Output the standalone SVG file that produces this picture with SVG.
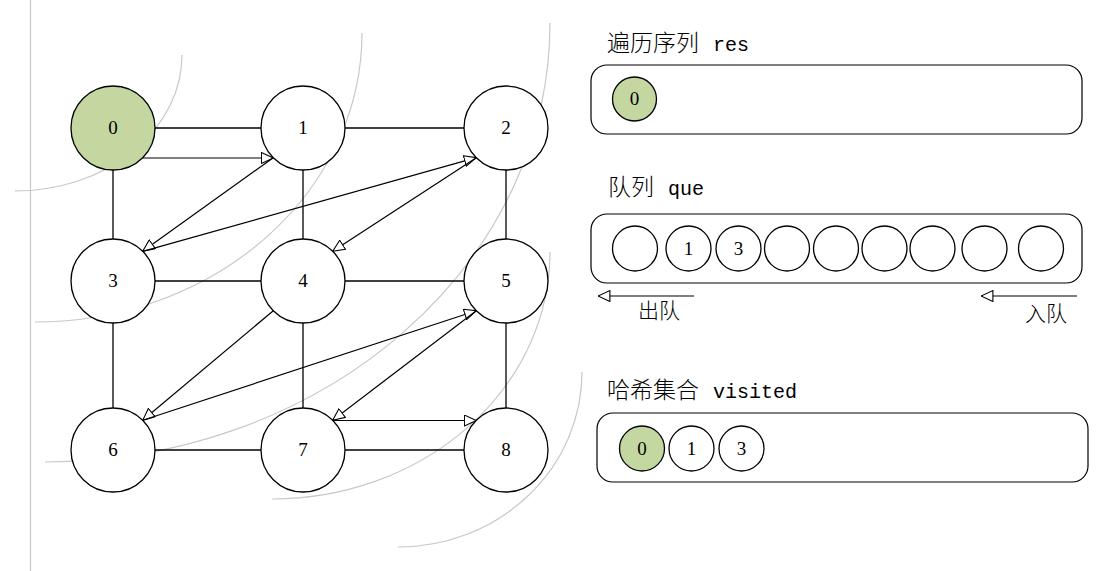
<svg xmlns="http://www.w3.org/2000/svg" width="1111" height="571" viewBox="0 0 1111 571">
  <style>
    .node { fill: #ffffff; stroke: #000000; stroke-width: 1.3; }
    .visited { fill: #c5d7a1; }
    .label { font-family: "Liberation Serif", "Noto Sans CJK SC", serif; font-size: 19px; fill: #000000; text-anchor: middle; }
    .edge { stroke: #000000; stroke-width: 1.3; fill: none; }
    .arrow { stroke: #000000; stroke-width: 1.2; fill: none; marker-end: url(#hollow); }
    .guide { stroke: #c8c8c8; stroke-width: 1.2; fill: none; }
    .box { fill: #ffffff; stroke: #000000; stroke-width: 1.2; }
    .title { font-family: "Noto Sans CJK SC", sans-serif; font-size: 23px; font-weight: 300; fill: #000000; }
    .mono { font-family: "Liberation Mono", monospace; font-size: 20px; }
    .cjk { font-family: "Noto Sans CJK SC", sans-serif; font-size: 21px; font-weight: 300; fill: #000000; }
  </style>
  <defs>
    <marker id="hollow" viewBox="0 0 13 12" refX="12.5" refY="6" markerWidth="13" markerHeight="12" markerUnits="userSpaceOnUse" orient="auto">
      <path d="M0.6,0.6 L12.5,6 L0.6,11.4 Z" fill="#ffffff" stroke="#000000" stroke-width="1.1"/>
    </marker>
  </defs>

  <rect width="1111" height="571" fill="#ffffff"/>

  <!-- guide lines: margin and level wavefronts -->
  <g id="guides">
    <line class="guide" x1="30.5" y1="0" x2="30.5" y2="571"/>
    <path class="guide" d="M182,55 A167,136 0 0 1 15,191"/>
    <path class="guide" d="M362,33 A327,289 0 0 1 35,322"/>
    <path class="guide" d="M550,23 A505,439 0 0 1 45,462"/>
    <path class="guide" d="M550,252 A278,247 0 0 1 272,499"/>
    <path class="guide" d="M582,372 A184,175 0 0 1 398,547"/>
  </g>

  <!-- grid edges and traversal order arrows -->
  <g id="connectors">
    <line class="edge" x1="155" y1="128" x2="261" y2="128"/>
    <line class="edge" x1="345" y1="128" x2="464" y2="128"/>
    <line class="edge" x1="155" y1="281" x2="261" y2="281"/>
    <line class="edge" x1="345" y1="281" x2="464" y2="281"/>
    <line class="edge" x1="155" y1="450" x2="261" y2="450"/>
    <line class="edge" x1="345" y1="450" x2="464" y2="450"/>
    <line class="edge" x1="113" y1="170" x2="113" y2="239"/>
    <line class="edge" x1="303" y1="170" x2="303" y2="239"/>
    <line class="edge" x1="506" y1="170" x2="506" y2="239"/>
    <line class="edge" x1="113" y1="323" x2="113" y2="408"/>
    <line class="edge" x1="303" y1="323" x2="303" y2="408"/>
    <line class="edge" x1="506" y1="323" x2="506" y2="408"/>

    <line class="arrow" x1="142.7" y1="158" x2="273.3" y2="158"/>
    <line class="arrow" x1="273.3" y1="157.7" x2="142.7" y2="251.3"/>
    <line class="arrow" x1="142.7" y1="251.3" x2="476.3" y2="157.7"/>
    <line class="arrow" x1="476.3" y1="157.7" x2="332.7" y2="251.3"/>
    <line class="arrow" x1="273.3" y1="310.7" x2="142.7" y2="420.3"/>
    <line class="arrow" x1="142.7" y1="420.3" x2="476.3" y2="310.7"/>
    <line class="arrow" x1="476.3" y1="310.7" x2="332.7" y2="420.3"/>
    <line class="arrow" x1="332.7" y1="420.5" x2="476.3" y2="420.5"/>

    <line class="arrow" x1="694" y1="296" x2="598" y2="296"/>
    <line class="arrow" x1="1077" y1="296" x2="981" y2="296"/>
  </g>

  <!-- graph nodes -->
  <g id="n0"><circle class="node visited" cx="113" cy="128" r="42"/><text class="label" x="113" y="134">0</text></g>
  <g id="n1"><circle class="node" cx="303" cy="128" r="42"/><text class="label" x="303" y="134">1</text></g>
  <g id="n2"><circle class="node" cx="506" cy="128" r="42"/><text class="label" x="506" y="134">2</text></g>
  <g id="n3"><circle class="node" cx="113" cy="281" r="42"/><text class="label" x="113" y="287">3</text></g>
  <g id="n4"><circle class="node" cx="303" cy="281" r="42"/><text class="label" x="303" y="287">4</text></g>
  <g id="n5"><circle class="node" cx="506" cy="281" r="42"/><text class="label" x="506" y="287">5</text></g>
  <g id="n6"><circle class="node" cx="113" cy="450" r="42"/><text class="label" x="113" y="456">6</text></g>
  <g id="n7"><circle class="node" cx="303" cy="450" r="42"/><text class="label" x="303" y="456">7</text></g>
  <g id="n8"><circle class="node" cx="506" cy="450" r="42"/><text class="label" x="506" y="456">8</text></g>

  <!-- result sequence -->
  <g id="res">
    <text class="title" x="607" y="51">遍历序列<tspan class="mono" x="713">res</tspan></text>
    <rect class="box" x="591" y="65" width="491" height="69" rx="16"/>
    <circle class="node visited" cx="634.5" cy="99" r="22"/>
    <text class="label" x="634.5" y="105">0</text>
  </g>

  <!-- queue -->
  <g id="que">
    <text class="title" x="608" y="195">队列<tspan class="mono" x="668">que</tspan></text>
    <rect class="box" x="591" y="214" width="491" height="69" rx="16"/>
    <circle class="node" cx="635" cy="248.5" r="22.5"/>
    <circle class="node" cx="688.5" cy="248.5" r="22.5"/>
    <circle class="node" cx="738.5" cy="248.5" r="22.5"/>
    <circle class="node" cx="787" cy="248.5" r="22.5"/>
    <circle class="node" cx="836" cy="248.5" r="22.5"/>
    <circle class="node" cx="884.5" cy="248.5" r="22.5"/>
    <circle class="node" cx="932.5" cy="248.5" r="22.5"/>
    <circle class="node" cx="984.5" cy="248.5" r="22.5"/>
    <circle class="node" cx="1041" cy="248.5" r="22.5"/>
    <text class="label" x="688.5" y="254.5">1</text>
    <text class="label" x="738.5" y="254.5">3</text>
    <text class="cjk" x="638" y="318">出队</text>
    <text class="cjk" x="1025" y="321">入队</text>
  </g>

  <!-- visited set -->
  <g id="visited">
    <text class="title" x="607" y="398">哈希集合<tspan class="mono" x="713">visited</tspan></text>
    <rect class="box" x="597" y="413" width="491" height="69" rx="16"/>
    <circle class="node visited" cx="642" cy="448.5" r="22.5"/>
    <circle class="node" cx="691.5" cy="448.5" r="22.5"/>
    <circle class="node" cx="741.5" cy="448.5" r="22.5"/>
    <text class="label" x="642" y="454.5">0</text>
    <text class="label" x="691.5" y="454.5">1</text>
    <text class="label" x="741.5" y="454.5">3</text>
  </g>
</svg>
